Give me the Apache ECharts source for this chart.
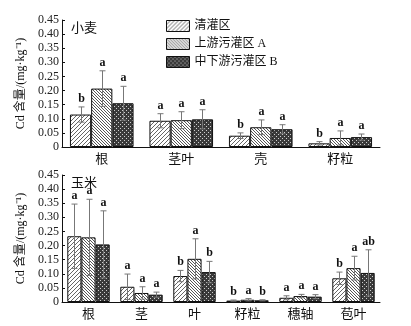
<!DOCTYPE html>
<html>
<head>
<meta charset="utf-8">
<script src="https://cdn.jsdelivr.net/npm/echarts@6/dist/echarts.min.js"></script>
<style>
  html, body { margin: 0; padding: 0; background: #fff; }
  #main { width: 411px; height: 326px; }
</style>
</head>
<body>
<div id="main"></div>
<script>
// 小麦
var wheatCats = ["根", "茎叶", "壳", "籽粒"];
var wheatClean = [0.115, 0.093, 0.040, 0.013];
var wheatA = [0.207, 0.095, 0.070, 0.032];
var wheatB = [0.155, 0.098, 0.063, 0.035];
var wheatCleanSd = [0.027, 0.025, 0.010, 0.006];
var wheatASd = [0.063, 0.030, 0.026, 0.025];
var wheatBSd = [0.060, 0.034, 0.016, 0.011];
var wheatCleanSig = ["b", "a", "b", "b"];
var wheatASig = ["a", "a", "a", "a"];
var wheatBSig = ["a", "a", "a", "a"];

// 玉米
var maizeCats = ["根", "茎", "叶", "籽粒", "穗轴", "苞叶"];
var maizeClean = [0.233, 0.054, 0.092, 0.005, 0.015, 0.084];
var maizeA = [0.229, 0.032, 0.153, 0.008, 0.021, 0.120];
var maizeB = [0.204, 0.026, 0.106, 0.006, 0.019, 0.103];
var maizeCleanSd = [0.114, 0.045, 0.020, 0.002, 0.007, 0.022];
var maizeASd = [0.135, 0.022, 0.071, 0.004, 0.006, 0.042];
var maizeBSd = [0.119, 0.009, 0.038, 0.002, 0.007, 0.082];
var maizeCleanSig = ["a", "a", "b", "b", "a", "b"];
var maizeASig = ["a", "a", "a", "a", "a", "a"];
var maizeBSig = ["a", "a", "b", "b", "a", "ab"];

var groupNames = ["清灌区", "上游污灌区 A", "中下游污灌区 B"];
var yTicks = [0, 0.05, 0.10, 0.15, 0.20, 0.25, 0.30, 0.35, 0.40, 0.45];

var serif = '"Liberation Serif", "Noto Sans CJK SC", serif';

// hatch fills, drawn pixel by pixel
function hatch(kind) {
  var n = kind === "back" ? 3 : 4;
  var c = document.createElement("canvas");
  c.width = n; c.height = n;
  var g = c.getContext("2d");
  g.fillStyle = "#fff";
  g.fillRect(0, 0, n, n);
  var i;
  if (kind === "fwd") {
    g.fillStyle = "#666";
    for (i = 0; i < n; i++) g.fillRect(n - 1 - i, i, 1, 1);
  } else if (kind === "back") {
    g.fillStyle = "#555";
    for (i = 0; i < n; i++) g.fillRect(i, i, 1, 1);
  } else {
    g.fillStyle = "#3a3a3a";
    g.fillRect(0, 0, n, n);
    g.fillStyle = "#cfcfcf";
    g.fillRect(0, 0, 1, 1);
    g.fillRect(2, 2, 1, 1);
  }
  return { image: c, repeat: "repeat" };
}
var fills = [hatch("fwd"), hatch("back"), hatch("cross")];

function barSeries(name, vals, k, axis) {
  return {
    name: name, type: "bar", xAxisIndex: axis, yAxisIndex: axis,
    data: vals, barGap: "0%", barCategoryGap: "20%",
    itemStyle: { color: fills[k], borderColor: "#111", borderWidth: 1 },
    emphasis: { disabled: true }
  };
}

function errSeries(vals, sds, sig, k, axis) {
  return {
    type: "custom", xAxisIndex: axis, yAxisIndex: axis, z: 5, silent: true,
    data: vals.map(function (v, i) { return [i, v, sds[i]]; }),
    encode: { x: 0, y: 1 },
    renderItem: function (params, api) {
      var band = api.size([1, 0])[0];
      var off = (k - 1) * band * 0.8 / 3;
      var v = api.value(1), s = api.value(2);
      var c = api.coord([api.value(0), v]);
      var hi = api.coord([api.value(0), v + s]);
      var lo = api.coord([api.value(0), Math.max(0, v - s)]);
      var x = Math.round(c[0] + off) + 0.5;
      var st = { stroke: "#777", lineWidth: 1 };
      return {
        type: "group",
        children: [
          { type: "line", shape: { x1: x, y1: hi[1], x2: x, y2: lo[1] }, style: st },
          { type: "line", shape: { x1: x - 3, y1: hi[1], x2: x + 3, y2: hi[1] }, style: st },
          { type: "line", shape: { x1: x - 3, y1: lo[1], x2: x + 3, y2: lo[1] }, style: st },
          {
            type: "text", x: x, y: hi[1] - 2,
            style: {
              text: sig[params.dataIndex], fill: "#111",
              font: "bold 12px " + serif,
              textAlign: "center", textVerticalAlign: "bottom"
            }
          }
        ]
      };
    }
  };
}

function xAxisCfg(cats, idx) {
  return {
    type: "category", data: cats, gridIndex: idx,
    axisLine: { lineStyle: { color: "#111", width: 1 } },
    axisTick: { show: false },
    axisLabel: { color: "#111", fontSize: 13, fontFamily: serif, margin: 6 }
  };
}

function yAxisCfg(idx) {
  return {
    type: "value", gridIndex: idx, min: 0, max: 0.45, interval: 0.05,
    name: "Cd 含量/(mg·kg⁻¹)", nameLocation: "middle", nameGap: 22, nameRotate: 90,
    nameTextStyle: { color: "#111", fontSize: 12, fontFamily: serif },
    axisLine: { show: true, lineStyle: { color: "#111", width: 1 } },
    axisTick: { show: true, inside: true, length: 3, lineStyle: { color: "#111" } },
    splitLine: { show: false },
    axisLabel: {
      color: "#222", fontSize: 12, fontFamily: serif, margin: 3,
      formatter: function (v) {
        var t = yTicks.filter(function (x) { return Math.abs(x - v) < 1e-6; })[0];
        return t === 0 ? "0" : t.toFixed(2);
      }
    }
  };
}

var chart = echarts.init(document.getElementById("main"));
chart.setOption({
  animation: false,
  title: [
    { text: "小麦", left: 66, top: 17, textStyle: { fontSize: 13, fontWeight: "normal", color: "#111", fontFamily: serif } },
    { text: "玉米", left: 66, top: 172, textStyle: { fontSize: 13, fontWeight: "normal", color: "#111", fontFamily: serif } }
  ],
  legend: {
    data: groupNames, orient: "vertical", left: 161, top: 15,
    icon: "rect", itemWidth: 23, itemHeight: 11, itemGap: 6,
    itemStyle: { borderColor: "#111", borderWidth: 1 },
    textStyle: { fontSize: 12, color: "#111", fontFamily: serif }
  },
  grid: [
    { left: 62, right: 31, top: 20, height: 127 },
    { left: 62, right: 31, top: 175, height: 127 }
  ],
  xAxis: [xAxisCfg(wheatCats, 0), xAxisCfg(maizeCats, 1)],
  yAxis: [yAxisCfg(0), yAxisCfg(1)],
  series: [
    barSeries(groupNames[0], wheatClean, 0, 0),
    barSeries(groupNames[1], wheatA, 1, 0),
    barSeries(groupNames[2], wheatB, 2, 0),
    barSeries(groupNames[0], maizeClean, 0, 1),
    barSeries(groupNames[1], maizeA, 1, 1),
    barSeries(groupNames[2], maizeB, 2, 1),
    errSeries(wheatClean, wheatCleanSd, wheatCleanSig, 0, 0),
    errSeries(wheatA, wheatASd, wheatASig, 1, 0),
    errSeries(wheatB, wheatBSd, wheatBSig, 2, 0),
    errSeries(maizeClean, maizeCleanSd, maizeCleanSig, 0, 1),
    errSeries(maizeA, maizeASd, maizeASig, 1, 1),
    errSeries(maizeB, maizeBSd, maizeBSig, 2, 1)
  ]
});
</script>
</body>
</html>
